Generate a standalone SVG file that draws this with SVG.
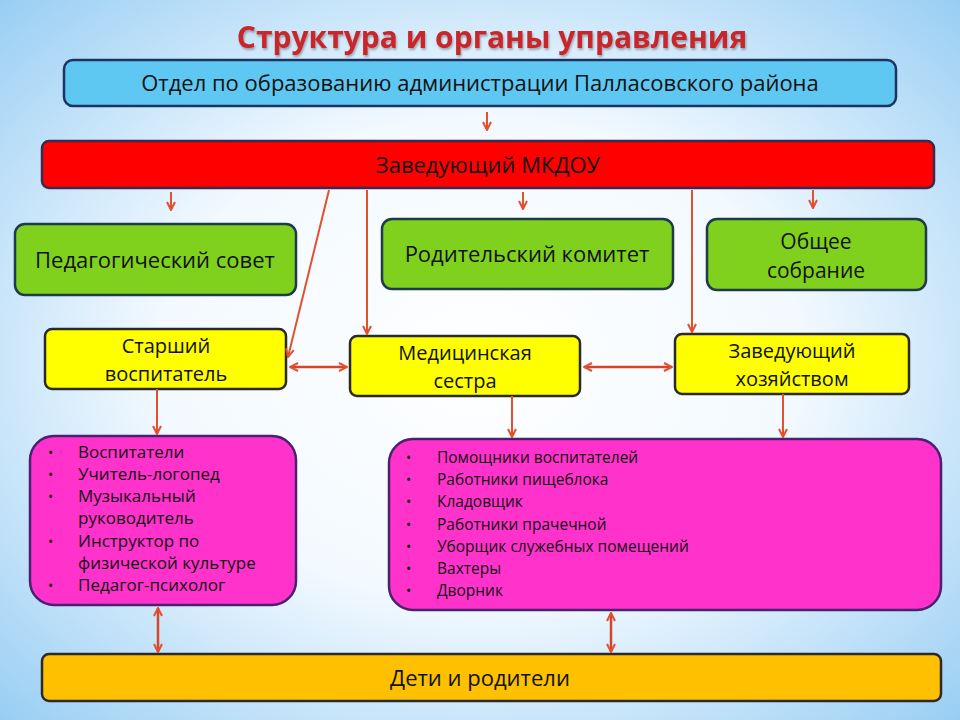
<svg xmlns="http://www.w3.org/2000/svg" width="960" height="720" viewBox="0 0 960 720">
<defs>
<radialGradient id="bg" cx="50%" cy="50%" r="75%">
<stop offset="0" stop-color="#ffffff"/>
<stop offset="0.45" stop-color="#f2f9ff"/>
<stop offset="1" stop-color="#8ec9f2"/>
</radialGradient>
<marker id="ah" viewBox="0 0 10 10" refX="9" refY="5" markerWidth="10" markerHeight="10" markerUnits="userSpaceOnUse" orient="auto-start-reverse">
<path d="M1,1 L9,5 L1,9" fill="none" stroke="#e2502e" stroke-width="2"/>
</marker>
<filter id="sh" x="-10%" y="-10%" width="120%" height="130%">
<feDropShadow dx="1" dy="2" stdDeviation="1.2" flood-color="#000" flood-opacity="0.3"/>
</filter>
</defs>
<style>
.box{stroke-width:2.5}
.blue{fill:#5ec8f2;stroke:#1c3462}
.red{fill:#ff0000;stroke:#3a2a50}
.green{fill:#80d11e;stroke:#1f3a4a}
.yellow{fill:#ffff00;stroke:#2a2a2a}
.pink{fill:#ff33cc;stroke:#4a2070}
.orange{fill:#ffc000;stroke:#2a2a2a}
.t{font-family:"Open Sans","Liberation Sans",sans-serif;fill:#111;text-anchor:middle}
.l{font-family:"Open Sans","Noto Sans","Liberation Sans",sans-serif;fill:#111}
.c{stroke:#e2502e;stroke-width:2;fill:none;marker-end:url(#ah)}
.d{stroke:#d6452a;stroke-width:2.5;fill:none;marker-end:url(#ah);marker-start:url(#ah)}
</style>
<rect width="960" height="720" fill="url(#bg)"/>
<text x="492" y="48" font-family="Open Sans, Liberation Sans, sans-serif" font-size="30" font-weight="bold" fill="#c8282a" text-anchor="middle" filter="url(#sh)">Структура и органы управления</text>

<g id="otdel"><rect class="box blue" x="64" y="60" width="832" height="46" rx="9"/><text class="t" x="480" y="91" font-size="22">Отдел по образованию  администрации Палласовского  района</text></g>
<g id="zav"><rect class="box red" x="42" y="141" width="892" height="47" rx="7"/><text class="t" x="488" y="173" font-size="22" fill="#3a0a0a">Заведующий МКДОУ</text></g>
<g id="pedsovet"><rect class="box green" x="15" y="224" width="281" height="71" rx="10"/><text class="t" x="155" y="268" font-size="22">Педагогический совет</text></g>
<g id="rodkom"><rect class="box green" x="382" y="219" width="291" height="70" rx="10"/><text class="t" x="527" y="262" font-size="22">Родительский комитет</text></g>
<g id="obsh"><rect class="box green" x="707" y="219" width="219" height="71" rx="10"/><text class="t" x="816" y="249" font-size="21">Общее</text><text class="t" x="816" y="278" font-size="21">собрание</text></g>
<g id="starsh"><rect class="box yellow" x="45" y="329" width="241" height="60" rx="7"/><text class="t" x="166" y="353" font-size="20">Старший</text><text class="t" x="166" y="381" font-size="20">воспитатель</text></g>
<g id="med"><rect class="box yellow" x="350" y="336" width="230" height="60" rx="7"/><text class="t" x="465" y="360" font-size="20">Медицинская</text><text class="t" x="465" y="388" font-size="20">сестра</text></g>
<g id="hoz"><rect class="box yellow" x="675" y="334" width="234" height="60" rx="7"/><text class="t" x="792" y="358" font-size="20">Заведующий</text><text class="t" x="792" y="386" font-size="20">хозяйством</text></g>

<g id="list1"><rect class="box pink" x="30" y="436" width="266" height="169" rx="24"/>
<g class="l" font-size="17">
<text x="48" y="458" font-size="14">•</text><text x="78" y="458">Воспитатели</text>
<text x="48" y="480" font-size="14">•</text><text x="78" y="480">Учитель-логопед</text>
<text x="48" y="502" font-size="14">•</text><text x="78" y="502">Музыкальный</text>
<text x="78" y="524">руководитель</text>
<text x="48" y="547" font-size="14">•</text><text x="78" y="547">Инструктор по</text>
<text x="78" y="569">физической культуре</text>
<text x="48" y="591" font-size="14">•</text><text x="78" y="591">Педагог-психолог</text>
</g></g>
<g id="list2"><rect class="box pink" x="389" y="439" width="552" height="171" rx="24"/>
<g class="l" font-size="15.5">
<text x="406" y="463" font-size="14">•</text><text x="437" y="463">Помощники воспитателей</text>
<text x="406" y="485" font-size="14">•</text><text x="437" y="485">Работники пищеблока</text>
<text x="406" y="507" font-size="14">•</text><text x="437" y="507">Кладовщик</text>
<text x="406" y="530" font-size="14">•</text><text x="437" y="530">Работники прачечной</text>
<text x="406" y="552" font-size="14">•</text><text x="437" y="552">Уборщик служебных помещений</text>
<text x="406" y="574" font-size="14">•</text><text x="437" y="574">Вахтеры</text>
<text x="406" y="596" font-size="14">•</text><text x="437" y="596">Дворник</text>
</g></g>
<g id="deti"><rect class="box orange" x="42" y="654" width="899" height="47" rx="7"/><text class="t" x="480" y="686" font-size="22">Дети и родители</text></g>

<g id="connectors">
<line class="c" x1="487" y1="112" x2="487" y2="130"/>
<line class="c" x1="171" y1="192" x2="171" y2="210"/>
<line class="c" x1="523" y1="192" x2="523" y2="209"/>
<line class="c" x1="813" y1="190" x2="813" y2="208"/>
<line class="c" x1="329" y1="190" x2="288" y2="357"/>
<line class="c" x1="367" y1="190" x2="367" y2="334"/>
<line class="c" x1="692" y1="190" x2="692" y2="332"/>
<line class="d" x1="290" y1="367" x2="347" y2="367"/>
<line class="d" x1="584" y1="367" x2="672" y2="367"/>
<line class="c" x1="157" y1="389" x2="157" y2="434"/>
<line class="c" x1="512" y1="396" x2="512" y2="437"/>
<line class="c" x1="783" y1="394" x2="783" y2="437"/>
<line class="d" x1="158" y1="608" x2="158" y2="652"/>
<line class="d" x1="611" y1="613" x2="611" y2="652"/>
</g>
</svg>
